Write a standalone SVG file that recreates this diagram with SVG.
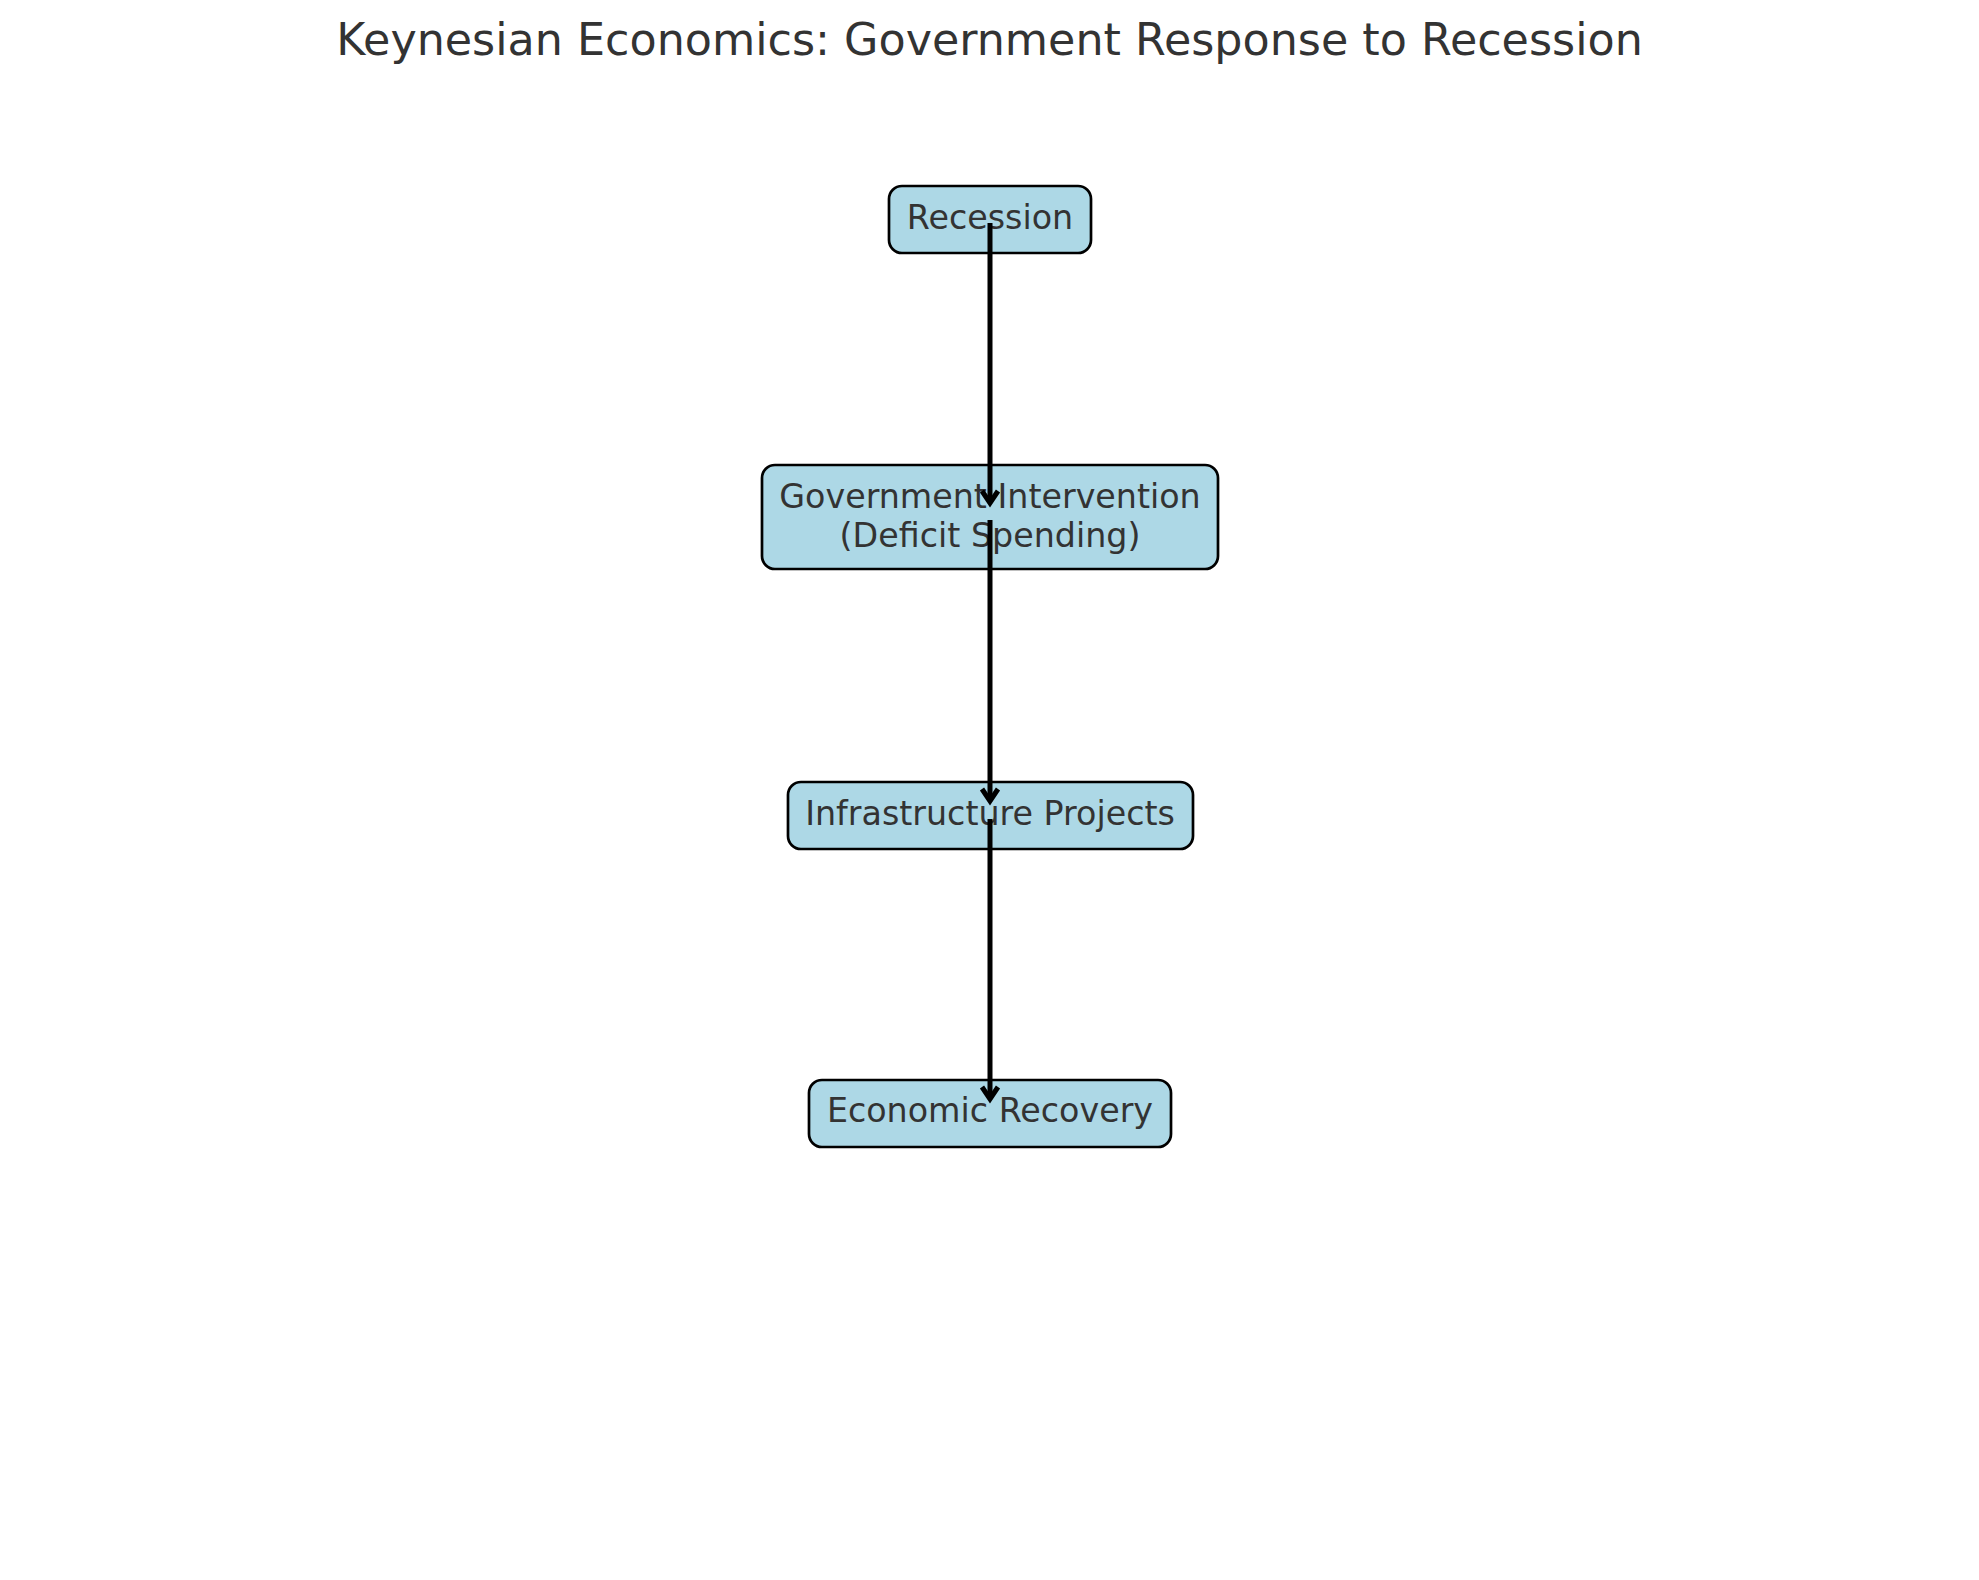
<svg xmlns="http://www.w3.org/2000/svg" width="1979" height="1580" viewBox="0 0 1979 1580">
<style>
.box{fill:#ADD8E6;stroke:#000;stroke-width:2.7}
.lbl{font-family:"DejaVu Sans",sans-serif;font-size:33.3px;fill:#333;text-anchor:middle}
.title{font-family:"DejaVu Sans",sans-serif;font-size:44.4px;fill:#333;text-anchor:middle}
.edge{stroke:#000;stroke-width:5;fill:none}
.head{stroke:#000;stroke-width:5;fill:none;stroke-linecap:butt;stroke-linejoin:miter;stroke-miterlimit:10}
</style>
<rect width="1979" height="1580" fill="#fff"/>
<text class="title" x="989.5" y="55">Keynesian Economics: Government Response to Recession</text>
<g id="node-recession">
<rect class="box" x="889" y="186" width="202" height="67" rx="13"/>
<text class="lbl" x="990" y="229">Recession</text>
</g>
<g id="node-government">
<rect class="box" x="762" y="465" width="456" height="104" rx="13"/>
<text class="lbl" x="990" y="508">Government Intervention</text>
<text class="lbl" x="990" y="547">(Deficit Spending)</text>
</g>
<g id="node-infrastructure">
<rect class="box" x="788" y="782" width="405" height="67" rx="13"/>
<text class="lbl" x="990" y="825">Infrastructure Projects</text>
</g>
<g id="node-recovery">
<rect class="box" x="809" y="1080" width="362" height="67" rx="13"/>
<text class="lbl" x="990" y="1122">Economic Recovery</text>
</g>
<g id="connectors">
<line class="edge" x1="990" y1="223" x2="990" y2="502"/>
<polyline class="head" points="982,491 990,503 998,491"/>
<line class="edge" x1="990" y1="520" x2="990" y2="800"/>
<polyline class="head" points="982,789 990,801 998,789"/>
<line class="edge" x1="990" y1="819" x2="990" y2="1098"/>
<polyline class="head" points="982,1087 990,1099 998,1087"/>
</g>
</svg>
